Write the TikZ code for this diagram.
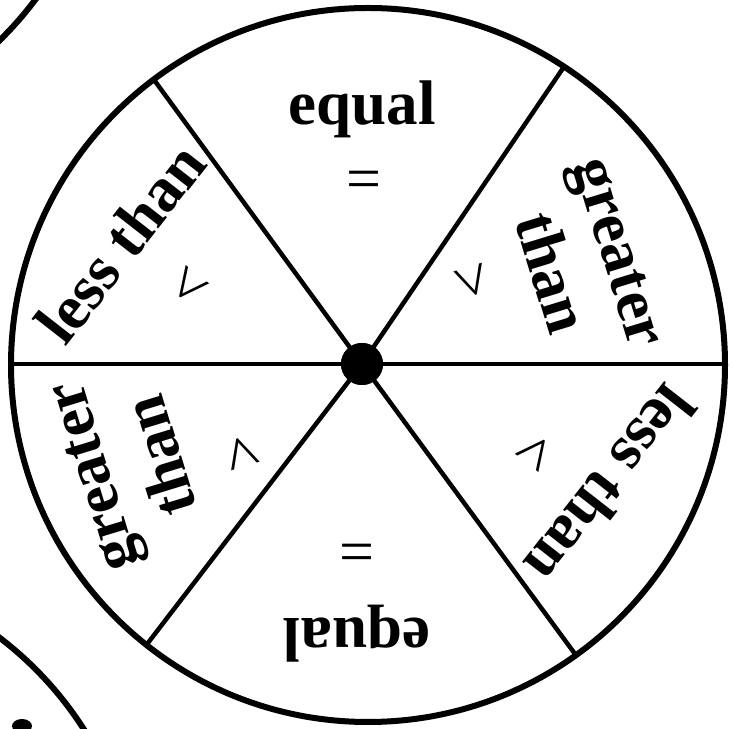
\documentclass[tikz,border=0pt]{standalone}
\usepackage{fontspec}
\setmainfont{Liberation Serif}
\usetikzlibrary{positioning, calc}

\begin{document}
\begin{tikzpicture}[
    x=1pt, y=1pt,
    rim/.style={draw=black, line width=6pt},
    spoke/.style={draw=black, line width=4.5pt},
    word/.style={inner sep=0pt, align=center, font=\fontsize{63}{73}\selectfont\bfseries},
    sym/.style={inner sep=0pt, font=\fontsize{62}{62}\selectfont}
]
    \useasboundingbox (0,0) rectangle (733,728);

    % Neighbouring spinners, cut by the page
    \begin{scope}
        \clip (0,0) rectangle (733,728);
        \draw [rim] (-250.4,942.4) circle (357);
        \draw [rim] (-217,-193.5) circle (357);
        \fill (22,2) ellipse (10 and 7);
    \end{scope}

    % Wheel and hub
    \coordinate (centre) at (368,363);
    \node (hub) [circle, fill=black, minimum size=42pt, inner sep=0pt] at (362,364) {};
    \draw [rim] (centre) circle (357);

    % Spokes
    \begin{scope}
        \clip (centre) circle (357);
        \foreach \ang in {0, 55.8, 126.2, 180, 232.5, 306.3}
            \draw [spoke] (hub.center) -- ++(\ang:450);
    \end{scope}
    \node [circle, fill=black, minimum size=42pt, inner sep=0pt] at (hub.center) {};

    % Labels
    \node (eqtop) [word, anchor=base] at (362,603) {equal};
    \node (eqtopsym) [sym] at (364,543) {=};
    \node (eqbot) [word, anchor=base, rotate=180] at (357,110) {equal};
    \node (eqbotsym) [sym] at (357,170) {=};

    \node (lesstop) [word, rotate=52] at (120,485) {less than};
    \node (lesstopsym) [sym, rotate=52] at (191,440) {<};
    \node (lessbot) [word, rotate=232] at (611,243) {less than};
    \node (lessbotsym) [sym, rotate=232] at (534,278) {<};

    \node (grtop) [word, rotate=-73] at (584,465) {greater\\than};
    \node (grtopsym) [sym, rotate=-73] at (470,446) {>};
    \node (grbot) [word, rotate=107] at (128,262) {greater\\than};
    \node (grbotsym) [sym, rotate=107] at (244,276) {>};

\end{tikzpicture}
\end{document}
